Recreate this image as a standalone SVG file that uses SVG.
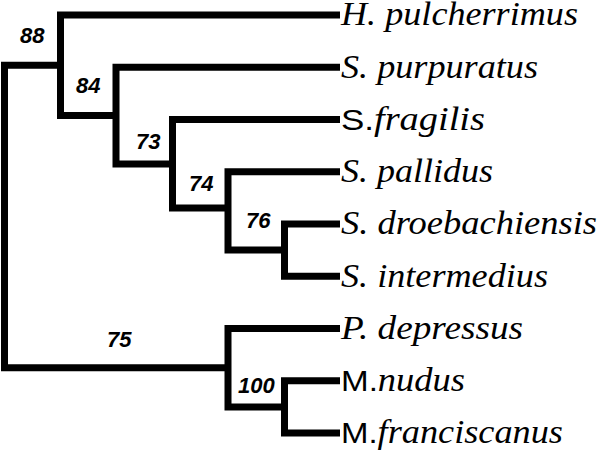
<svg xmlns="http://www.w3.org/2000/svg" width="600" height="453" viewBox="0 0 600 453">
<style>
.br{fill:none;stroke:#000;stroke-width:7;stroke-linejoin:miter;stroke-linecap:butt}
.tx{font-family:"Liberation Serif","Times New Roman",serif;font-style:italic;font-size:33px;fill:#000}
.sn{font-family:"Liberation Sans",Arial,sans-serif;font-style:normal;font-size:30px}
.bs{font-family:"Liberation Sans",Arial,sans-serif;font-style:italic;font-weight:bold;font-size:22px;fill:#000}
</style>
<rect width="600" height="453" fill="#fff"/>
<g id="connectors">
<path class="br" d="M60.5,65.3 H4.5 V367.7 H228"/>
<path class="br" d="M340,15 H60.5 V115.6 H116"/>
<path class="br" d="M340,67.25 H116 V164 H172.5"/>
<path class="br" d="M340,119.5 H172.5 V208 H228"/>
<path class="br" d="M340,171.75 H228 V250.1 H284.5"/>
<path class="br" d="M340,224 H284.5 V276.25 H340"/>
<path class="br" d="M340,328.5 H228 V407 H284.5"/>
<path class="br" d="M340,380.75 H284.5 V433 H340"/>
</g>
<g id="taxon-h-pulcherrimus"><text class="tx" x="341" y="25" textLength="237" lengthAdjust="spacingAndGlyphs">H. pulcherrimus</text></g>
<g id="taxon-s-purpuratus"><text class="tx" x="341" y="77.5" textLength="197" lengthAdjust="spacingAndGlyphs">S. purpuratus</text></g>
<g id="taxon-s-fragilis"><text class="tx" x="341" y="129.5" textLength="144" lengthAdjust="spacingAndGlyphs"><tspan class="sn">S.</tspan>fragilis</text></g>
<g id="taxon-s-pallidus"><text class="tx" x="341" y="182" textLength="152" lengthAdjust="spacingAndGlyphs">S. pallidus</text></g>
<g id="taxon-s-droebachiensis"><text class="tx" x="341" y="234" textLength="256" lengthAdjust="spacingAndGlyphs">S. droebachiensis</text></g>
<g id="taxon-s-intermedius"><text class="tx" x="341" y="286.5" textLength="207" lengthAdjust="spacingAndGlyphs">S. intermedius</text></g>
<g id="taxon-p-depressus"><text class="tx" x="341" y="338.5" textLength="182" lengthAdjust="spacingAndGlyphs">P. depressus</text></g>
<g id="taxon-m-nudus"><text class="tx" x="341" y="390.5" textLength="124" lengthAdjust="spacingAndGlyphs"><tspan class="sn">M.</tspan>nudus</text></g>
<g id="taxon-m-franciscanus"><text class="tx" x="341" y="443" textLength="222" lengthAdjust="spacingAndGlyphs"><tspan class="sn">M.</tspan>franciscanus</text></g>
<g id="node-88"><text class="bs" x="20" y="43">88</text></g>
<g id="node-84"><text class="bs" x="76" y="93">84</text></g>
<g id="node-73"><text class="bs" x="136" y="149">73</text></g>
<g id="node-74"><text class="bs" x="189" y="191">74</text></g>
<g id="node-76"><text class="bs" x="246" y="228">76</text></g>
<g id="node-75"><text class="bs" x="107" y="347">75</text></g>
<g id="node-100"><text class="bs" x="238" y="393">100</text></g>
</svg>
